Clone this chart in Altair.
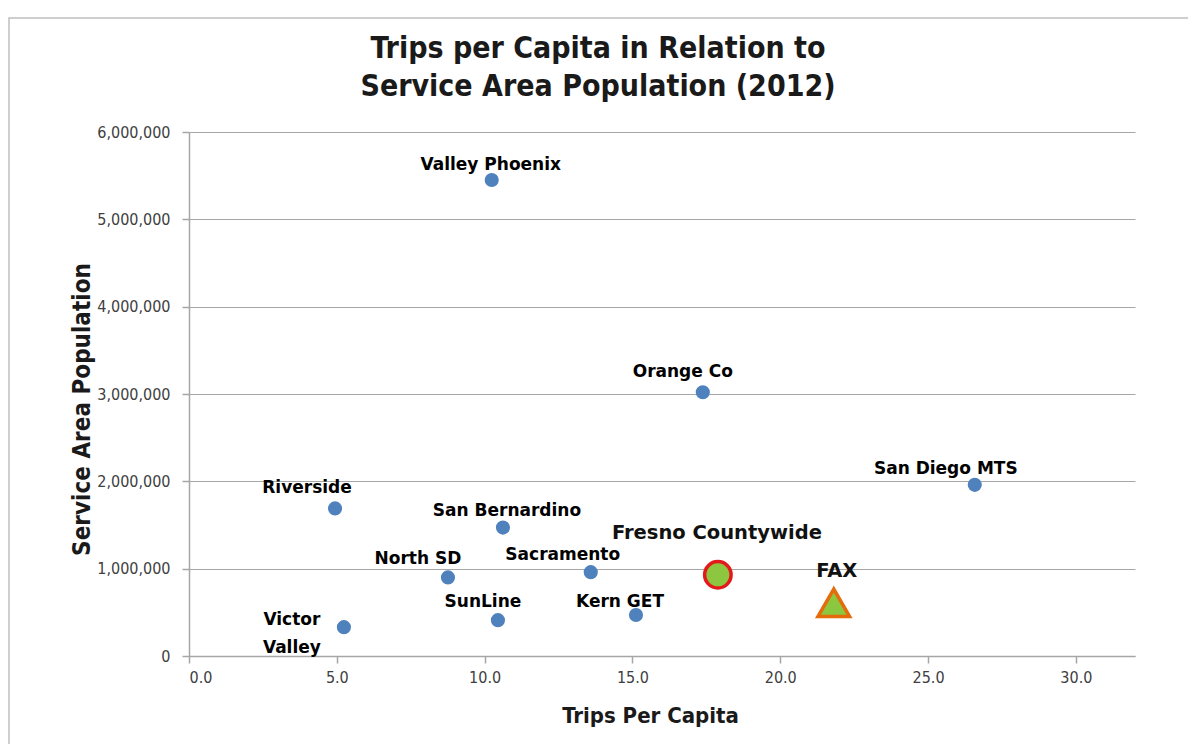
import altair as alt
import pandas as pd

# ---- data ----
names = ["Valley Phoenix", "Orange Co", "San Diego MTS", "Riverside", "San Bernardino",
         "North SD", "Sacramento", "Victor\nValley", "SunLine", "Kern GET"]
trips = [10.24, 17.38, 26.58, 4.94, 10.62, 8.76, 13.59, 5.24, 10.45, 15.12]
population = [5450000, 3020000, 1960000, 1690000, 1470000, 900000, 960000, 330000, 410000, 470000]

fresno_name = ["Fresno Countywide"]
fresno_trips = [17.89]
fresno_pop = [930000]

fax_name = ["FAX"]
fax_trips = [21.81]
fax_pop = [610000]

x_ticks = [0, 5, 10, 15, 20, 25, 30]
y_ticks = [0, 1000000, 2000000, 3000000, 4000000, 5000000, 6000000]

# label offsets (style)
offsets = {
    "Valley Phoenix": (-1, -15),
    "Orange Co": (-20, -20),
    "San Diego MTS": (-29, -16),
    "Riverside": (-28, -20),
    "San Bernardino": (4, -17),
    "North SD": (-30, -18),
    "Sacramento": (-28, -17),
    "Victor\nValley": (-52, -7),
    "SunLine": (-15, -18),
    "Kern GET": (-16, -13),
}

agencies = pd.DataFrame({"name": names, "trips": trips, "pop": population})
fresno = pd.DataFrame({"name": fresno_name, "trips": fresno_trips, "pop": fresno_pop})
fax = pd.DataFrame({"name": fax_name, "trips": fax_trips, "pop": fax_pop})

NARROW = "Liberation Sans Narrow, DejaVu Sans Condensed, Roboto, sans-serif"
LABEL_FONT = "DejaVu Sans, Verdana, sans-serif"

x_scale = alt.Scale(domain=[0, 32], nice=False)
y_scale = alt.Scale(domain=[0, 6000000], nice=False)

x_enc = alt.X("trips:Q", scale=x_scale,
              axis=alt.Axis(title="Trips Per Capita", values=x_ticks, format=".1f",
                            grid=False, tickSize=7, labelPadding=6, titleFontSize=22,
                            titleX=461, titleY=59, titleBaseline="middle"))
y_enc = alt.Y("pop:Q", scale=y_scale,
              axis=alt.Axis(title="Service Area Population", values=y_ticks, format=",d",
                            grid=True, tickSize=7, labelPadding=12, titleFontSize=24,
                            titleX=-107, titleY=277, titleBaseline="middle"))

points = alt.Chart(agencies).mark_circle(size=200, color="#4F81BD", opacity=1).encode(
    x=x_enc, y=y_enc)

label_layers = []
for n in names:
    dx, dy = offsets[n]
    label_layers.append(
        alt.Chart(agencies).transform_filter(alt.datum.name == n).mark_text(
            font=LABEL_FONT, fontWeight="bold", fontSize=17, color="#000000",
            dx=dx, dy=dy, baseline="middle", align="center", lineBreak="\n", lineHeight=28
        ).encode(x="trips:Q", y="pop:Q", text="name:N")
    )

fresno_pt = alt.Chart(fresno).mark_point(
    shape="circle", size=700, filled=True, fill="#8DC63F", stroke="#E3191B",
    strokeWidth=3.5, opacity=1, fillOpacity=1).encode(x="trips:Q", y="pop:Q")
fresno_lbl = alt.Chart(fresno).mark_text(
    font=LABEL_FONT, fontWeight="bold", fontSize=19.5, color="#111111",
    dx=-1, dy=-42, baseline="middle").encode(x="trips:Q", y="pop:Q", text="name:N")

fax_pt = alt.Chart(fax).mark_point(
    shape="triangle-up", size=1000, filled=True, fill="#8DC63F", stroke="#E46C0A",
    strokeWidth=3.5, opacity=1, fillOpacity=1).encode(x="trips:Q", y="pop:Q")
fax_lbl = alt.Chart(fax).mark_text(
    font=LABEL_FONT, fontWeight="bold", fontSize=19.5, color="#111111",
    dx=3, dy=-32, baseline="middle").encode(x="trips:Q", y="pop:Q", text="name:N")

# decorative outer frame of the chart
frame = alt.Chart(pd.DataFrame({"f": [0]})).mark_rect(
    fill=None, stroke="#BFBFBF", strokeWidth=1.5).encode(
    x=alt.value(-180), x2=alt.value(1040), y=alt.value(-114), y2=alt.value(700))

chart = alt.layer(frame, points, *label_layers, fresno_pt, fresno_lbl, fax_pt, fax_lbl).properties(
    width=946, height=524,
    autosize=alt.AutoSizeParams(type="none"),
    padding={"left": 181, "top": 124, "right": 53, "bottom": 88},
    title=alt.TitleParams(
        text=["Trips per Capita in Relation to", "Service Area Population (2012)"],
        font=NARROW, fontSize=30, fontWeight="bold", color="#1A1A1A",
        anchor="middle", dx=-64, offset=-85, lineHeight=38),
).configure_view(stroke=None).configure_axis(
    domainColor="#A6A6A6", tickColor="#A6A6A6", gridColor="#A6A6A6",
    domainWidth=1.5, gridWidth=1, tickWidth=1.5,
    labelFont=NARROW, labelFontSize=16, labelColor="#404040",
    titleFont=NARROW, titleFontWeight="bold", titleColor="#1A1A1A",
)

chart.save("out.html", embed_options={"renderer": "svg", "actions": False})
